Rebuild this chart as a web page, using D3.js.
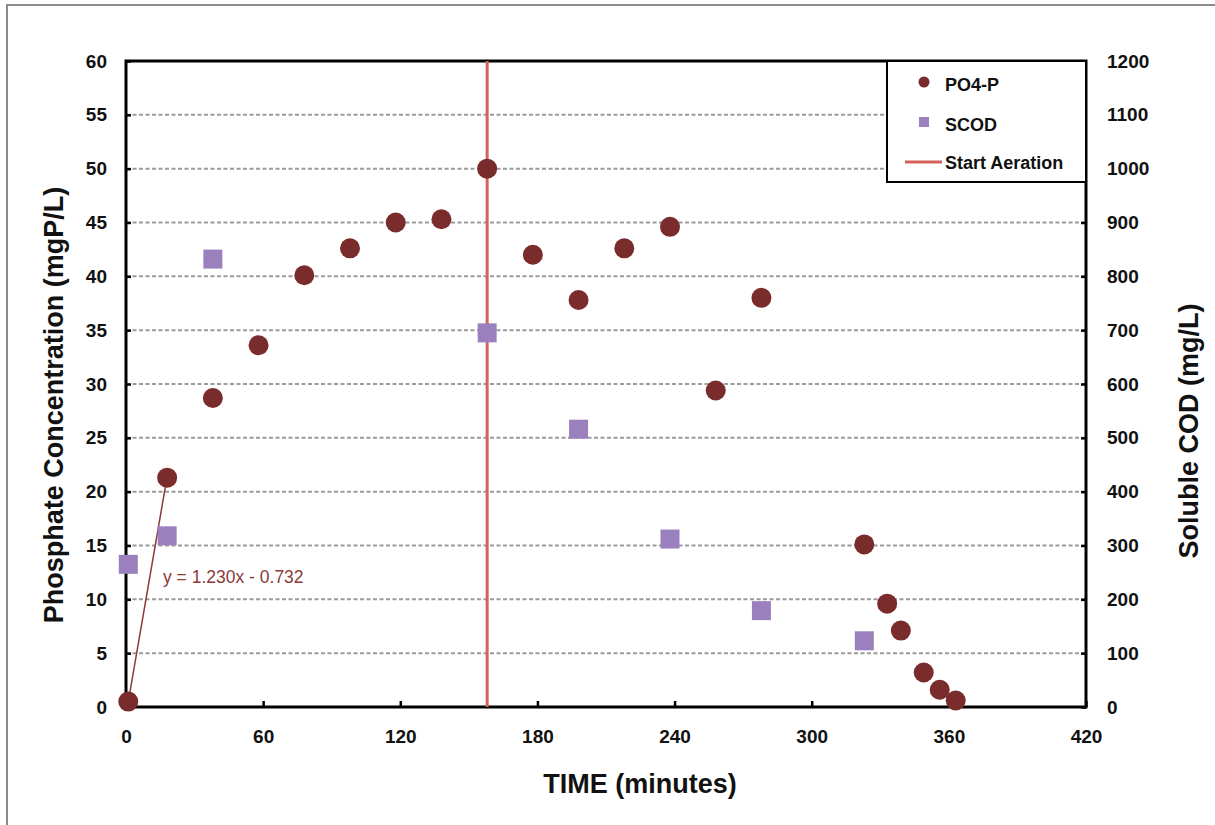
<!DOCTYPE html>
<html>
<head>
<meta charset="utf-8">
<script src="https://cdn.jsdelivr.net/npm/d3@7"></script>
<style>
  html, body { margin: 0; padding: 0; background: #fff; }
  svg { display: block; font-family: "Liberation Sans", Arial, Helvetica, sans-serif; }
</style>
</head>
<body>
<svg id="chart" width="1215" height="825"></svg>
<script>
// ---- Data ----
const po4Time = [1, 18, 38, 58, 78, 98, 118, 138, 158, 178, 198, 218, 238, 258, 278, 323, 333, 339, 349, 356, 363];
const po4Values = [0.5, 21.3, 28.7, 33.6, 40.1, 42.6, 45.0, 45.3, 50.0, 42.0, 37.8, 42.6, 44.6, 29.4, 38.0, 15.1, 9.6, 7.1, 3.2, 1.6, 0.6];
const scodTime = [1, 18, 38, 158, 198, 238, 278, 323];
const scodValues = [265, 318, 832, 695, 516, 312, 179, 123];
const aerationTime = 158;
const xTicks = [0, 60, 120, 180, 240, 300, 360, 420];
const yLeftTicks = [0, 5, 10, 15, 20, 25, 30, 35, 40, 45, 50, 55, 60];
const yRightTicks = [0, 100, 200, 300, 400, 500, 600, 700, 800, 900, 1000, 1100, 1200];
const trendSlope = 1.230, trendIntercept = -0.732;
const trendRange = [1, 18];
const trendLabel = "y = 1.230x - 0.732";
const legendLabels = ["PO4-P", "SCOD", "Start Aeration"];

// ---- Layout ----
const L = 126, R = 1086, T = 61, B = 707;
const col = { po4: "#7a2b2b", scod: "#9a80bd", aer: "#d4615a", trend: "#8a3a3a", grid: "#9a9a9a" };
const font = '"Liberation Sans", Arial, Helvetica, sans-serif';

const svg = d3.select("#chart");

// outer frame (partially visible)
svg.append("path").attr("d", "M7,830 L7,5 L1220,5").attr("fill", "none")
  .attr("stroke", "#8c8c8c").attr("stroke-width", 2);

const x = d3.scaleLinear().domain([0, 420]).range([L, R]);
const yL = d3.scaleLinear().domain([0, 60]).range([B, T]);
const yR = d3.scaleLinear().domain([0, 1200]).range([B, T]);

// gridlines
svg.append("g").selectAll("line").data(yLeftTicks.filter(d => d > 0 && d < 60)).join("line")
  .attr("x1", L).attr("x2", R).attr("y1", d => yL(d)).attr("y2", d => yL(d))
  .attr("stroke", col.grid).attr("stroke-width", 2).attr("stroke-dasharray", "4,2.5");

// axes
const gx = svg.append("g").attr("transform", `translate(0,${B})`)
  .call(d3.axisBottom(x).tickValues(xTicks).tickSize(-6).tickPadding(22).tickFormat(d3.format("d")));
const gyl = svg.append("g").attr("transform", `translate(${L},0)`)
  .call(d3.axisLeft(yL).tickValues(yLeftTicks).tickSize(-5).tickPadding(19).tickFormat(d3.format("d")));
const gyr = svg.append("g").attr("transform", `translate(${R},0)`)
  .call(d3.axisRight(yR).tickValues(yRightTicks).tickSize(-5).tickPadding(21).tickFormat(d3.format("d")));

[gx, gyl, gyr].forEach(g => {
  g.select(".domain").remove();
  g.selectAll(".tick line").attr("stroke", "#000").attr("stroke-width", 2.5);
  g.selectAll(".tick text").attr("fill", "#111").attr("font-size", 19).attr("font-weight", "bold")
    .attr("font-family", font);
});
gx.selectAll(".tick text").attr("dy", null).attr("y", 36);

// frame
svg.append("rect").attr("x", L).attr("y", T).attr("width", R - L).attr("height", B - T)
  .attr("fill", "none").attr("stroke", "#000").attr("stroke-width", 3);

// aeration line
svg.append("line").attr("x1", x(aerationTime)).attr("x2", x(aerationTime)).attr("y1", T).attr("y2", B)
  .attr("stroke", col.aer).attr("stroke-width", 3);

// trend line
svg.append("line")
  .attr("x1", x(trendRange[0])).attr("y1", yL(trendSlope * trendRange[0] + trendIntercept))
  .attr("x2", x(trendRange[1])).attr("y2", yL(trendSlope * trendRange[1] + trendIntercept))
  .attr("stroke", col.trend).attr("stroke-width", 1.5);

// SCOD squares
const sq = 19;
svg.append("g").selectAll("rect").data(scodTime.map((t, i) => [t, scodValues[i]])).join("rect")
  .attr("x", d => x(d[0]) - sq / 2).attr("y", d => yR(d[1]) - sq / 2)
  .attr("width", sq).attr("height", sq).attr("fill", col.scod);

// PO4 circles
svg.append("g").selectAll("circle").data(po4Time.map((t, i) => [t, po4Values[i]])).join("circle")
  .attr("cx", d => x(d[0])).attr("cy", d => yL(d[1])).attr("r", 10).attr("fill", col.po4);

// trend label
svg.append("text").attr("x", 163).attr("y", 583).attr("fill", col.trend)
  .attr("font-size", 17.5).attr("font-family", font).text(trendLabel);

// legend
const lg = svg.append("g");
lg.append("rect").attr("x", 887).attr("y", T).attr("width", R - 887).attr("height", 121)
  .attr("fill", "#fff").attr("stroke", "#000").attr("stroke-width", 2);
lg.append("circle").attr("cx", 924).attr("cy", 82).attr("r", 5.5).attr("fill", col.po4);
lg.append("rect").attr("x", 919).attr("y", 117).attr("width", 10).attr("height", 10).attr("fill", col.scod);
lg.append("line").attr("x1", 905).attr("x2", 942).attr("y1", 162).attr("y2", 162)
  .attr("stroke", col.aer).attr("stroke-width", 3);
const legY = [85, 125, 163];
legendLabels.forEach((t, i) => {
  lg.append("text").attr("x", 945).attr("y", legY[i]).attr("dy", "0.36em")
    .attr("font-size", 18).attr("font-weight", "bold").attr("fill", "#111").attr("font-family", font).text(t);
});

// axis titles
svg.append("text").attr("x", 640).attr("y", 793).attr("text-anchor", "middle")
  .attr("font-size", 27).attr("font-weight", "bold").attr("fill", "#111").attr("font-family", font)
  .text("TIME (minutes)");
svg.append("text").attr("transform", "translate(63,405) rotate(-90)").attr("text-anchor", "middle")
  .attr("font-size", 27).attr("font-weight", "bold").attr("fill", "#111").attr("font-family", font)
  .text("Phosphate Concentration (mgP/L)");
svg.append("text").attr("transform", "translate(1198,431) rotate(-90)").attr("text-anchor", "middle")
  .attr("font-size", 27).attr("font-weight", "bold").attr("fill", "#111").attr("font-family", font)
  .text("Soluble COD (mg/L)");
</script>
</body>
</html>
